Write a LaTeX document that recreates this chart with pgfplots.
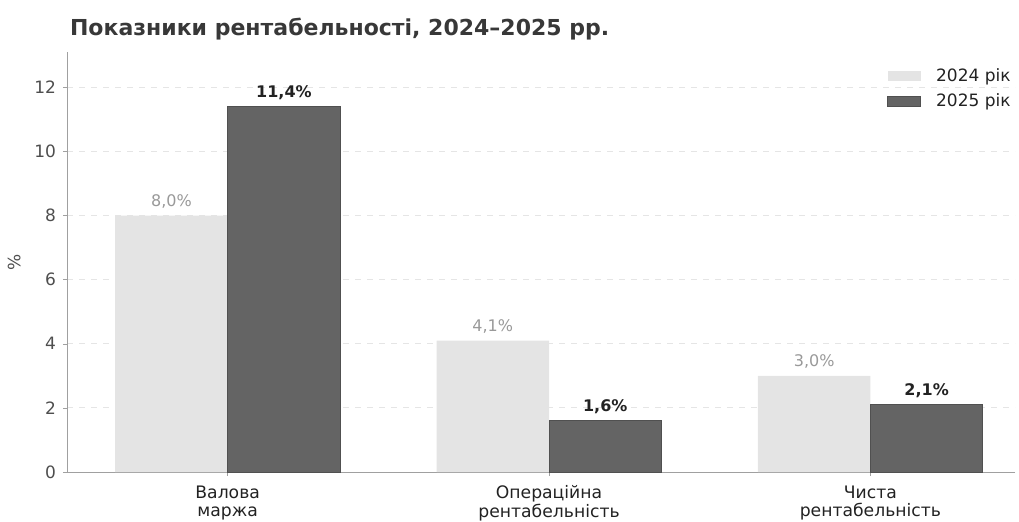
\documentclass[border=0pt]{standalone}
\usepackage{pgfplots}
\pgfplotsset{compat=1.18}
\usepackage{fontspec}
\setmainfont{DejaVu Sans}
\definecolor{barlight}{HTML}{E4E4E4}
\definecolor{bardark}{HTML}{646464}
\definecolor{txt}{HTML}{222222}
\definecolor{spine}{HTML}{A0A0A0}
\begin{document}
\begin{tikzpicture}
\path[use as bounding box] (-33.5pt,-24.5pt) rectangle (476pt,236pt);
\begin{axis}[
  at={(0,0)}, anchor=south west,
  scale only axis, width=474pt, height=210pt,
  xmin=-0.5, xmax=2.45, ymin=0, ymax=13.1,
  axis lines=left, axis line style={-, draw=spine},
  tick align=outside, major tick length=2pt,
  tick style={draw=spine},
  xtick={0,1,2},
  xticklabels={{Валова\\маржа},{Операційна\\рентабельність},{Чиста\\рентабельність}},
  xticklabel style={align=center, font=\fontsize{8.6}{9.3}\selectfont, text=txt, yshift=-1.2pt},
  ytick={0,2,4,6,8,10,12},
  yticklabel style={font=\fontsize{8.5}{10}\selectfont, text=txt!80},
  /pgf/number format/assume math mode=true,
  ymajorgrids, major grid style={dashed, draw=gray!20, line width=0.5pt},
  ylabel={\%}, ylabel style={font=\fontsize{8.5}{10}\selectfont, text=txt!80},
  title={\textbf{Показники рентабельності, 2024–2025 рр.}},
  title style={at={(rel axis cs:0,1)}, anchor=base west, xshift=-2pt, yshift=2.5pt, font=\fontsize{11}{13}\selectfont, text=txt!90},
  ybar, bar width=0.35,
  nodes near coords={\pgfmathprintnumber[fixed,fixed zerofill,precision=1,use comma]{\pgfplotspointmeta}\%},
  legend style={draw=none, fill=none, at={(1,1)}, anchor=north east, yshift=-4pt, xshift=3pt, font=\fontsize{8.5}{10}\selectfont, text=txt, row sep=0.5pt},
  legend cell align=left,
  legend image code/.code={\fill[#1] (0pt,-2.5pt) rectangle (16.5pt,2.5pt); \path (22pt,0pt);},
]
\addplot[fill=barlight, draw=none, bar shift=-0.175,
  every node near coord/.append style={font=\fontsize{8}{9.5}\selectfont, text=gray!80}]
  coordinates {(0,8.0) (1,4.1) (2,3.0)};
\addlegendentry{2024 рік}
\addplot[fill=bardark, draw=bardark!80!black, bar shift=0.175,
  every node near coord/.append style={font=\fontsize{8}{9.5}\selectfont\bfseries, text=txt}]
  coordinates {(0,11.4) (1,1.6) (2,2.1)};
\addlegendentry{2025 рік}
\end{axis}
\end{tikzpicture}
\end{document}
